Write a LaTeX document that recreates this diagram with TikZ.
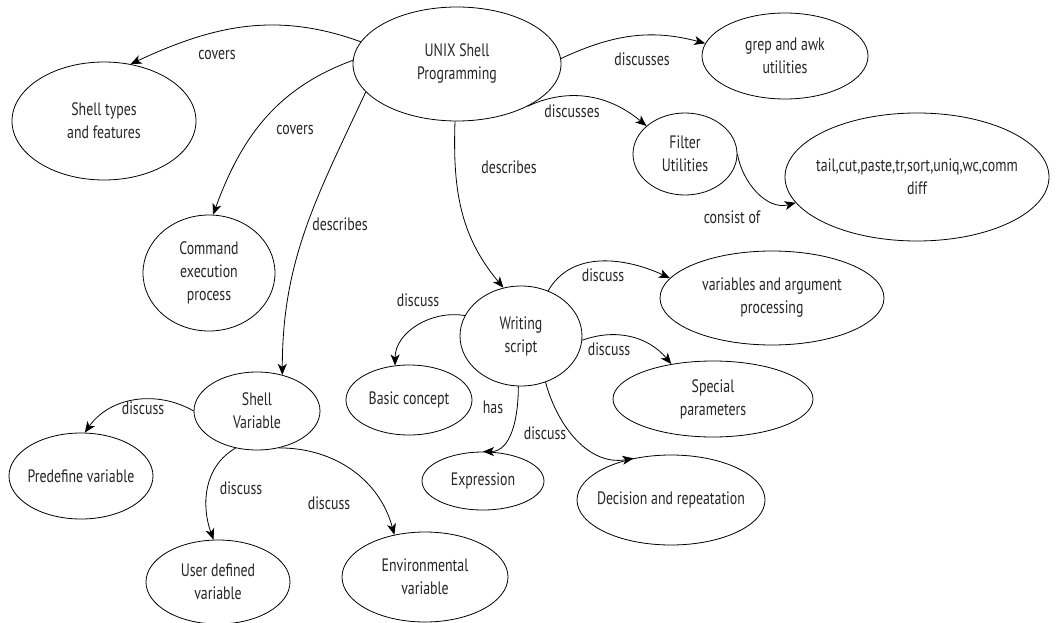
\documentclass[tikz,border=0pt]{standalone}
\usepackage{fontspec}
\setmainfont{PT Sans}[FakeStretch=0.77]
\usetikzlibrary{arrows.meta,shapes.geometric}

\begin{document}
\begin{tikzpicture}[x=1pt,y=1pt,
  every node/.style={font=\fontsize{18}{23}\selectfont, text=black!85},
  concept/.style 2 args={ellipse, draw, line width=0.8pt, inner sep=0pt,
                         minimum width=#1pt, minimum height=#2pt},
  txt/.style={align=center, inner sep=0pt},
  rel/.style={line width=0.8pt, -{Stealth[length=11pt,width=9pt,inset=3pt]}},
  lbl/.style={inner sep=1pt}
]
\fill[white] (0,0) rectangle (1057,-623);
\useasboundingbox (0,0) rectangle (1057,-623);

% concepts
\node[concept={208}{114}, label={[txt]center:{UNIX Shell\\Programming}}] (unix) at (457,-64) {};
\node[concept={184}{118}, label={[txt]center:{Shell types\\and features}}] (types) at (104,-121) {};
\node[concept={132}{116}, label={[txt]center:{Command\\execution\\process}}] (cmd) at (209,-273) {};
\node[concept={166}{86}, label={[txt]center:{grep and awk\\utilities}}] (grep) at (785,-56) {};
\node[concept={104}{82}, label={[txt]center:{Filter\\Utilities}}] (filter) at (685,-154) {};
\node[concept={264}{128}, label={[txt]center:{tail,cut,paste,tr,sort,uniq,wc,comm\\diff}}] (tail) at (917,-177) {};
\node[concept={224}{94}, label={[txt]center:{variables and argument\\processing}}] (vars) at (772,-298) {};
\node[concept={122}{100}, label={[txt]center:{Writing\\script}}] (write) at (521,-336) {};
\node[concept={126}{70}, label={[txt]center:{Basic concept}}] (basic) at (409,-400) {};
\node[concept={200}{76}, label={[txt]center:{Special\\parameters}}] (special) at (713,-399) {};
\node[concept={122}{58}, label={[txt]center:{Expression}}] (expr) at (483,-481) {};
\node[concept={188}{90}, label={[txt]center:{Decision and repeatation}}] (decision) at (671,-500) {};
\node[concept={126}{78}, label={[txt]center:{Shell\\Variable}}] (shellvar) at (257,-411) {};
\node[concept={144}{86}, label={[txt]center:{Predefine variable}}] (predef) at (81,-476) {};
\node[concept={144}{84}, label={[txt]center:{User defined\\variable}}] (user) at (218,-582) {};
\node[concept={166}{90}, label={[txt]center:{Environmental\\variable}}] (env) at (425,-577) {};

% relations
\draw[rel] (unix.167) to[out=160,in=25] (types.65);
\draw[rel] (unix.178) to[out=200,in=70] (cmd.86);
\draw[rel] (unix.197) to[out=245,in=90] (shellvar.55);
\draw[rel] (unix.268) to[out=268,in=130] (write.110);
\draw[rel] (unix.3) to[out=25,in=165] (grep.171);
\draw[rel] (unix.329) to[out=25,in=140] (filter.144);
\draw[rel] (filter.0) to[out=-80,in=195] (tail.192);
\draw[rel] (write.59) to[out=60,in=155] (vars.169);
\draw[rel] (write.160) to[out=170,in=90] (basic.112);
\draw[rel] (write.356) to[out=20,in=130] (special.140);
\draw[rel] (write.267) to[out=270,in=0] (expr.90);
\draw[rel] (write.298) to[out=285,in=190] (decision.132);
\draw[rel] (shellvar.180) to[out=150,in=55] (predef.85);
\draw[rel] (shellvar.240) to[out=210,in=110] (user.96);
\draw[rel] (shellvar.301) to[out=0,in=105] (env.126);

% relation labels
\node[lbl] (lcovA) at (217,-55) {covers};
\node[lbl] (lcovB) at (295,-130) {covers};
\node[lbl] (ldescA) at (340,-224) {describes};
\node[lbl] (ldescB) at (509,-167) {describes};
\node[lbl] (ldiscA) at (642,-59) {discusses};
\node[lbl] (ldiscB) at (572,-111) {discusses};
\node[lbl] (lcons) at (732,-217) {consist of};
\node[lbl] (lvars) at (603,-275) {discuss};
\node[lbl] (lbasic) at (418,-300) {discuss};
\node[lbl] (lspec) at (609,-349) {discuss};
\node[lbl] (lhas) at (493,-407) {has};
\node[lbl] (ldec) at (545,-433) {discuss};
\node[lbl] (lpre) at (143,-408) {discuss};
\node[lbl] (luser) at (241,-488) {discuss};
\node[lbl] (lenv) at (329,-503) {discuss};
\end{tikzpicture}
\end{document}
